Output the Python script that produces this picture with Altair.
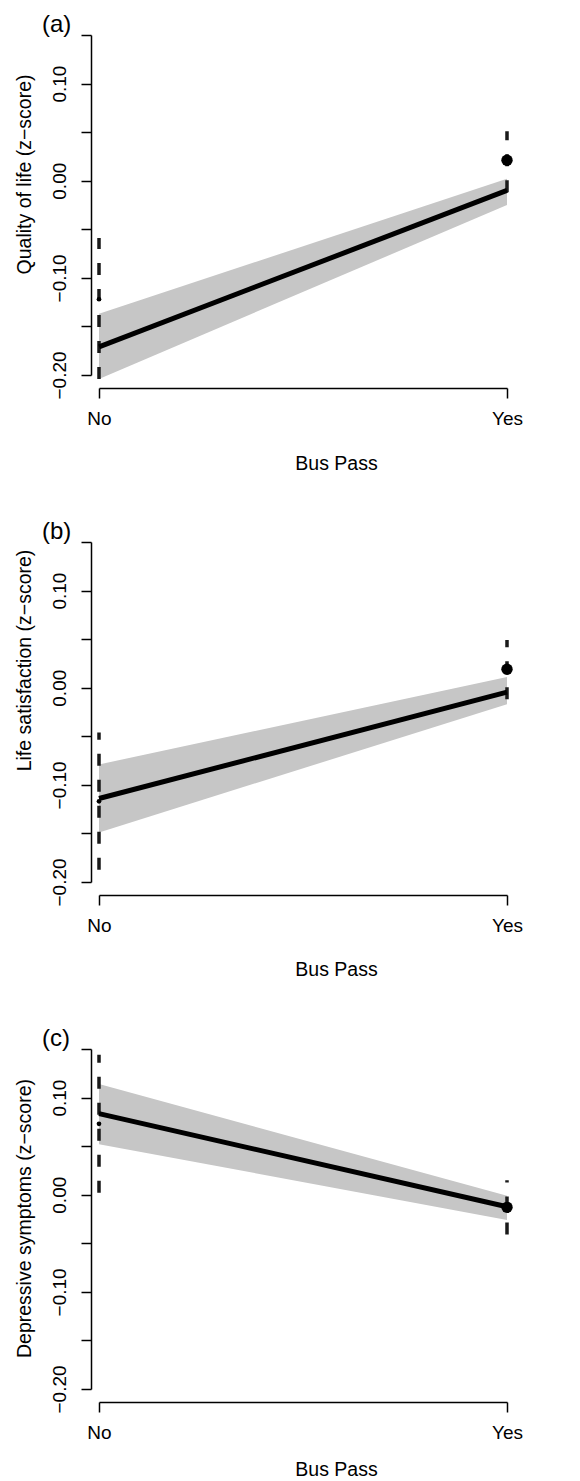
import altair as alt
import pandas as pd

# ---- data ----
groups = ["No", "Yes"]
group_pos = [0, 1]

panel_tags = ["(a)", "(b)", "(c)"]
y_titles = [
    "Quality of life (z\u2212score)",
    "Life satisfaction (z\u2212score)",
    "Depressive symptoms (z\u2212score)",
]
x_title = "Bus Pass"

# fitted line
fit_a = [-0.171, -0.010]
fit_b = [-0.114, -0.0045]
fit_c = [0.0835, -0.0124]
# confidence band of the fit
band_lo_a = [-0.204, -0.025]
band_hi_a = [-0.137, 0.002]
band_lo_b = [-0.149, -0.017]
band_hi_b = [-0.079, 0.011]
band_lo_c = [0.052, -0.026]
band_hi_c = [0.114, -0.001]
# observed means and their intervals (dashed)
mean_a = [-0.122, 0.021]
mean_b = [-0.117, 0.019]
mean_c = [0.073, -0.013]
ci_lo_a = [-0.204, -0.012]
ci_hi_a = [-0.059, 0.051]
ci_lo_b = [-0.1875, -0.012]
ci_hi_b = [-0.046, 0.049]
ci_lo_c = [0.002, -0.041]
ci_hi_c = [0.144, 0.015]

y_ticks = [-0.20, -0.15, -0.10, -0.05, 0.00, 0.05, 0.10, 0.15]

FONT = "Liberation Sans"
title_y_pos = [139, 118, 169]
x_title_y_pos = [81, 80, 73]


def panel(k, fit, blo, bhi, mean, clo, chi):
    df = pd.DataFrame({
        "group": groups, "pos": group_pos, "fit": fit,
        "blo": blo, "bhi": bhi, "mean": mean, "clo": clo, "chi": chi,
    })
    xlabels = "[" + ",".join("'%s'" % g for g in groups) + "][datum.value]"
    x = alt.X("pos:Q",
              scale=alt.Scale(domain=[group_pos[0], group_pos[-1]], nice=False, zero=False),
              axis=alt.Axis(values=group_pos, labelExpr=xlabels, title=x_title,
                            offset=13, tickSize=10, labelPadding=11, labelFlush=False,
                            labelAlign="center",
                            titleX=237, titleY=x_title_y_pos[k], titleBaseline="alphabetic",
                            titleAlign="center"))
    yscale = alt.Scale(domain=[y_ticks[0], y_ticks[-1]], nice=False, zero=False)
    yaxis = alt.Axis(values=y_ticks,
                     labelExpr="abs(round(datum.value*100)) % 10 == 0 ? format(datum.value, '.2f') : ''",
                     title=y_titles[k], offset=8, tickSize=10, labelPadding=16,
                     labelFlush=False,
                     labelAngle=270, labelAlign="center", labelBaseline="alphabetic",
                     titleAngle=270, titleX=-67, titleY=title_y_pos[k],
                     titleAlign="center", titleBaseline="middle")
    base = alt.Chart(df)
    band = base.mark_area(color="#c6c6c6", opacity=1).encode(
        x=x, y=alt.Y("blo:Q", scale=yscale, axis=yaxis), y2="bhi:Q")
    ci = base.mark_rule(color="#1a1a1a", strokeWidth=3.5, strokeDash=[12, 14]).encode(
        x="pos:Q", y="clo:Q", y2="chi:Q")
    line = base.mark_line(color="black", strokeWidth=5).encode(x="pos:Q", y="fit:Q")
    pts = base.mark_circle(color="black", opacity=1).encode(
        x="pos:Q", y="mean:Q",
        size=alt.Size("group:N", scale=alt.Scale(domain=groups, range=[22, 130]), legend=None))
    return alt.layer(band, ci, line, pts).properties(
        width=408, height=340,
        title=alt.TitleParams(text=panel_tags[k], anchor="start", frame="group",
                              dx=-57, fontSize=24, font=FONT, fontWeight="normal",
                              baseline="alphabetic", offset=-22, color="black"))


chart = alt.vconcat(
    panel(0, fit_a, band_lo_a, band_hi_a, mean_a, ci_lo_a, ci_hi_a),
    panel(1, fit_b, band_lo_b, band_hi_b, mean_b, ci_lo_b, ci_hi_b),
    panel(2, fit_c, band_lo_c, band_hi_c, mean_c, ci_lo_c, ci_hi_c),
    spacing=167, bounds="flush",
).configure_view(stroke=None).configure_axis(
    grid=False, domainColor="black", tickColor="black", domainWidth=1.5, tickWidth=1.5,
    labelColor="black", titleColor="black", labelFont=FONT, titleFont=FONT,
    labelFontSize=19, titleFontSize=19.5, titleFontWeight="normal",
)

chart.save("out.html", embed_options={"renderer": "svg", "actions": False})
